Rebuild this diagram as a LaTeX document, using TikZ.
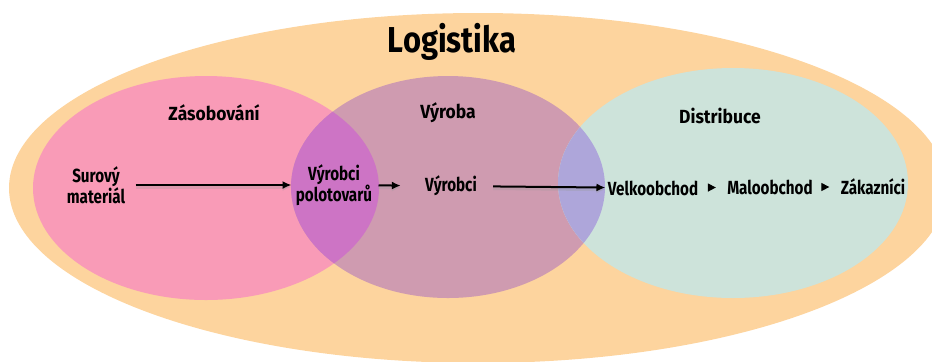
\documentclass[tikz,border=0pt]{standalone}
\usepackage{fontspec}
\setmainfont{Fira Sans}[FakeStretch=0.8]
\newfontfamily\titlefont{Fira Sans}[FakeStretch=0.92]
\newfontfamily\headfont{Fira Sans}[FakeStretch=0.86]
\usetikzlibrary{arrows.meta}

\definecolor{logorange}{HTML}{FDD49E}
\definecolor{zaspink}{HTML}{F99BB7}
\definecolor{vyrmauve}{HTML}{CF9BB0}
\definecolor{disteal}{HTML}{CDE3DA}
\definecolor{pinkmauve}{HTML}{CD74C5}
\definecolor{mauveteal}{HTML}{AEA6DA}

\tikzset{
    lbl/.style={font=\fontsize{9.5}{10.5}\selectfont\bfseries, align=center, inner sep=1pt},
    ttl/.style={font=\titlefont\fontsize{9.5}{10.5}\selectfont\bfseries},
    flow/.style={-{Latex[length=4.5pt,width=4pt]}, line width=1pt,
        preaction={draw=black!40, opacity=.3, line width=1.6pt, transform canvas={yshift=-1pt}}},
    tiny/.style={-{Triangle[length=4pt,width=4pt]}, line width=0.6pt}
}

\begin{document}
\begin{tikzpicture}[x=0.5pt,y=-0.5pt]
    \clip (0,0) rectangle (932,361);
    % outer set and the three circles
    \fill[logorange] (478,188) ellipse [x radius=469, y radius=175];
    \fill[zaspink] (206,188) ellipse [x radius=173, y radius=112];
    \fill[vyrmauve] (448,187) ellipse [x radius=157, y radius=111];
    \fill[disteal] (733,183) ellipse [x radius=175, y radius=115];
    % overlaps
    \begin{scope}
        \clip (206,188) ellipse [x radius=173, y radius=112];
        \fill[pinkmauve] (448,187) ellipse [x radius=157, y radius=111];
    \end{scope}
    \begin{scope}
        \clip (733,183) ellipse [x radius=175, y radius=115];
        \fill[mauveteal] (448,187) ellipse [x radius=157, y radius=111];
    \end{scope}

    \node[font=\headfont\fontsize{18}{20}\selectfont\bfseries] (logistika) at (452,42) {Logistika};
    \node[ttl] (zasob) at (214,113) {Zásobování};
    \node[ttl] (vyroba) at (448,113) {Výroba};
    \node[ttl] (distr) at (720,116) {Distribuce};

    \node[lbl] (surovy) at (96,185) {Surový\\materiál};
    \node[lbl] (polo) at (334,185) {Výrobci\\polotovarů};
    \node[lbl] (vyrobci) at (451,186) {Výrobci};
    \node[lbl] (velko) at (653,188) {Velkoobchod};
    \node[lbl] (malo) at (770,187) {Maloobchod};
    \node[lbl] (zak) at (873,187) {Zákazníci};

    \draw[flow, shorten <=4pt, shorten >=1pt] (surovy) -- (polo);
    \draw[flow, shorten <=2pt, shorten >=11pt] (polo) -- (vyrobci);
    \draw[flow, shorten <=7pt] (vyrobci) -- (velko);
    \draw[tiny, shorten <=6pt, shorten >=4.5pt] (velko) -- (malo);
    \draw[tiny, shorten <=4pt, shorten >=4.5pt] (malo) -- (zak);
\end{tikzpicture}
\end{document}
